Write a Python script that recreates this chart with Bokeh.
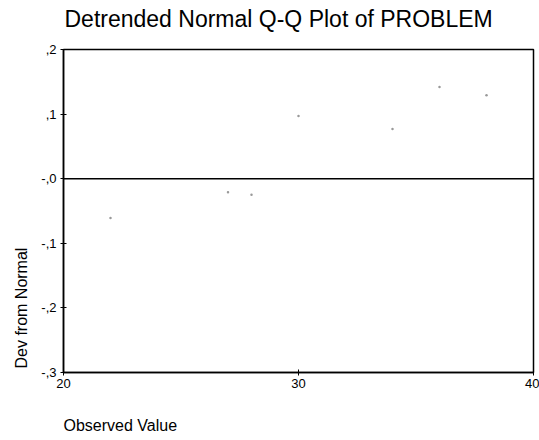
from bokeh.plotting import figure
from bokeh.models import FixedTicker, Span, Title
from bokeh.embed import file_html
from bokeh.resources import INLINE

# Data
observed = [22, 27, 28, 30, 34, 36, 38]
dev_from_normal = [-0.061, -0.021, -0.025, 0.097, 0.077, 0.142, 0.129]

x_ticks = [20, 30, 40]
x_tick_labels = ["20", "30", "40"]
y_ticks = [-0.3, -0.2, -0.1, 0.0, 0.1, 0.2]
y_tick_labels = ["-,3", "-,2", "-,1", "-,0", ",1", ",2"]

title_text = "Detrended Normal Q-Q Plot of PROBLEM"
x_label_text = "Observed Value"
y_label_text = "Dev from Normal"

FONT = "Liberation Sans"

p = figure(width=539, height=440, output_backend="svg", toolbar_location=None,
           x_range=(20, 40), y_range=(-0.3, 0.2),
           min_border_left=63, min_border_right=6, min_border_top=49, min_border_bottom=68)
p.title = None

p.grid.visible = False
p.outline_line_color = "black"
p.outline_line_width = 1.5
p.background_fill_color = "white"
p.border_fill_color = "white"

for ax in (p.xaxis[0], p.yaxis[0]):
    ax.axis_line_color = "black"
    ax.axis_line_width = 1.5
    ax.major_tick_in = 3
    ax.major_tick_out = 3
    ax.major_tick_line_color = "black"
    ax.minor_tick_line_color = None
    ax.major_label_text_font = FONT
    ax.major_label_text_font_size = "13px"
    ax.major_label_text_color = "black"

p.xaxis.ticker = FixedTicker(ticks=x_ticks)
p.xaxis.major_label_overrides = dict(zip(x_ticks, x_tick_labels))
p.xaxis.major_label_standoff = 3
# blank axis label used only as vertical spacing before the left-aligned label
p.xaxis.axis_label = " "
p.xaxis.axis_label_text_font_size = "1px"
p.xaxis.axis_label_standoff = 20

p.yaxis.ticker = FixedTicker(ticks=y_ticks)
p.yaxis.major_label_overrides = dict(zip(y_ticks, y_tick_labels))
p.yaxis.major_label_standoff = 4

p.add_layout(Span(location=0, dimension="width", line_color="black", line_width=1.5))

p.scatter(observed, dev_from_normal, size=2.5, color="#999999", line_color=None)

# top: spacer then the title (first added sits closest to the frame)
p.add_layout(Title(text=" ", text_font_size="1px", standoff=15), "above")
p.add_layout(Title(text=title_text, align="left", text_font=FONT, text_color="black",
                   text_font_size="23px", text_font_style="normal", standoff=0, offset=1), "above")

p.add_layout(Title(text=x_label_text, align="left", text_font=FONT, text_color="black",
                   text_font_size="16px", text_font_style="normal", standoff=0), "below")
p.add_layout(Title(text=y_label_text, align="left", text_font=FONT, text_color="black",
                   text_font_size="16px", text_font_style="normal", standoff=18, offset=4), "left")

open("out.html", "w").write(file_html(p, INLINE))
